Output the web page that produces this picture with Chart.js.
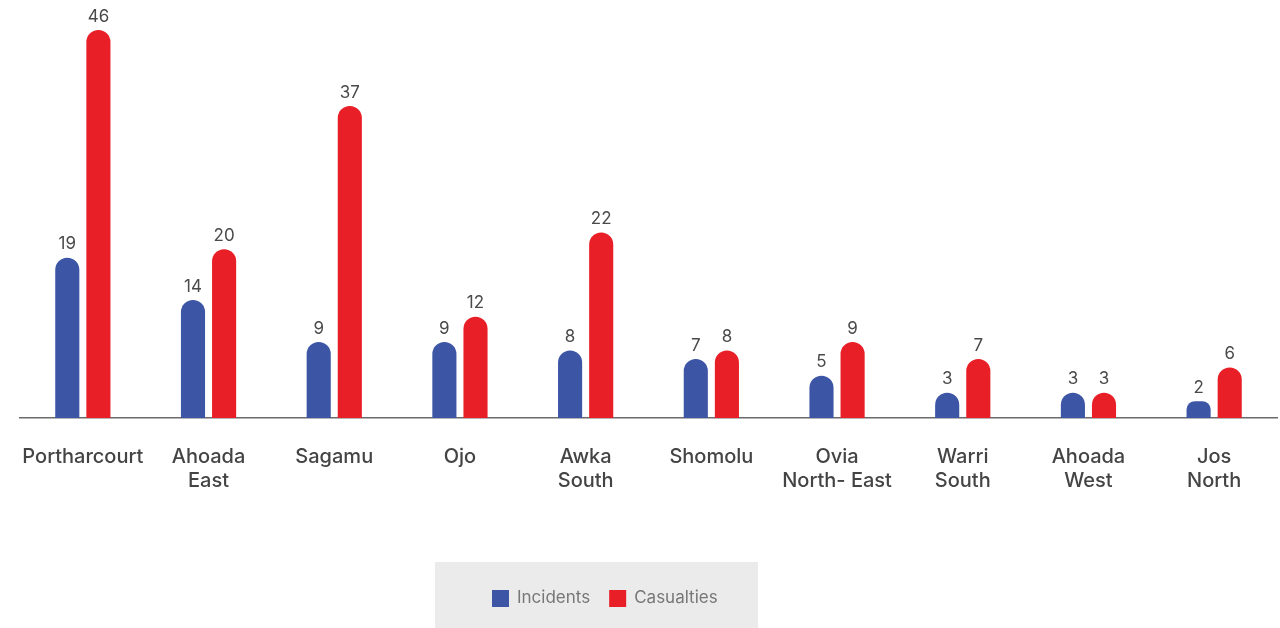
<!DOCTYPE html>
<html>
<head>
<meta charset="utf-8">
<script src="https://cdn.jsdelivr.net/npm/chart.js@4.4.1/dist/chart.umd.min.js"></script>
<style>
  html, body { margin: 0; padding: 0; background: #fff; }
  #wrap { width: 1280px; height: 628px; position: relative; }
</style>
</head>
<body>
<div id="wrap"><canvas id="bar-chart"></canvas></div>
<script>
const areas = [
  'Portharcourt', ['Ahoada', 'East'], 'Sagamu', 'Ojo', ['Awka', 'South'],
  'Shomolu', ['Ovia', 'North- East'], ['Warri', 'South'], ['Ahoada', 'West'], ['Jos', 'North']
];
const incidents = [19, 14, 9, 9, 8, 7, 5, 3, 3, 2];
const casualties = [46, 20, 37, 12, 22, 8, 9, 7, 3, 6];

const BLUE = '#3c55a5';
const RED = '#e91f27';

// numbers above each bar
const valueLabels = {
  id: 'valueLabels',
  afterDatasetsDraw(chart) {
    const ctx = chart.ctx;
    ctx.save();
    ctx.font = '400 17px Inter';
    ctx.fillStyle = '#4a4a4a';
    ctx.textAlign = 'center';
    ctx.textBaseline = 'bottom';
    chart.data.datasets.forEach((ds, i) => {
      chart.getDatasetMeta(i).data.forEach((bar, j) => {
        ctx.fillText(ds.data[j], bar.x, bar.y - 5);
      });
    });
    ctx.restore();
  }
};

// grey legend box under the axis
const boxLegend = {
  id: 'boxLegend',
  afterDraw(chart) {
    const ctx = chart.ctx;
    const left = 435, top = 562, w = 323, h = 66;
    ctx.save();
    ctx.fillStyle = '#ebebeb';
    ctx.fillRect(left, top, w, h);
    ctx.font = '400 17px Inter';
    ctx.textBaseline = 'middle';
    ctx.textAlign = 'left';
    let x = 492;
    const y = 598;
    chart.data.datasets.forEach(ds => {
      ctx.fillStyle = ds.backgroundColor;
      ctx.fillRect(x, y - 8, 17, 17);
      ctx.fillStyle = '#777';
      ctx.fillText(ds.label, x + 25, y);
      x += 25 + ctx.measureText(ds.label).width + 19;
    });
    ctx.restore();
  }
};

new Chart(document.getElementById('bar-chart'), {
  type: 'bar',
  data: {
    labels: areas,
    datasets: [
      {
        label: 'Incidents',
        data: incidents,
        backgroundColor: BLUE,
        borderRadius: { topLeft: 12, topRight: 12 },
        borderSkipped: 'bottom'
      },
      {
        label: 'Casualties',
        data: casualties,
        backgroundColor: RED,
        borderRadius: { topLeft: 12, topRight: 12 },
        borderSkipped: 'bottom'
      }
    ]
  },
  options: {
    responsive: true,
    maintainAspectRatio: false,
    animation: false,
    categoryPercentage: 0.495,
    barPercentage: 0.775,
    layout: { padding: { top: 30, left: 20, right: 3, bottom: 116 } },
    plugins: {
      legend: { display: false },
      tooltip: { enabled: false }
    },
    scales: {
      x: {
        grid: { display: false },
        border: { display: true, color: '#6b6b6b', width: 1.5 },
        ticks: {
          color: '#444',
          padding: 19,
          maxRotation: 0,
          autoSkip: false,
          font: { family: 'Inter', size: 20, weight: '500', lineHeight: 1.2 }
        }
      },
      y: {
        display: false,
        min: 0,
        max: 46
      }
    }
  },
  plugins: [valueLabels, boxLegend]
});
</script>
</body>
</html>
